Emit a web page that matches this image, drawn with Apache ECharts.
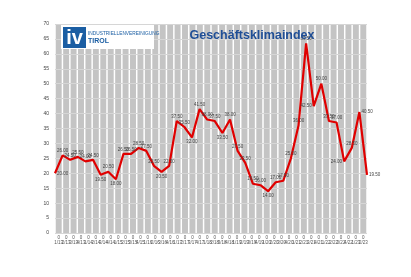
<!DOCTYPE html>
<html><head><meta charset="utf-8">
<script src="https://cdn.jsdelivr.net/npm/echarts@6/dist/echarts.min.js"></script>
<style>html,body{margin:0;padding:0;background:#fff}#c{width:411px;height:277px}</style>
</head><body><div id="c"></div>
<script>
const quarters = ['1/13','2/13','3/13','4/13','1/14','2/14','3/14','4/14','1/15','2/15','3/15','4/15',
  '1/16','2/16','3/16','4/16','1/17','2/17','3/17','4/17','1/18','2/18','3/18','4/18',
  '1/19','2/19','3/19','4/19','1/20','2/20','3/20','4/20','1/21','2/21','3/21','4/21',
  '1/22','2/22','3/22','4/22','1/23','2/23'];
const indexValues = [20.0,26.0,24.5,25.5,24.0,24.5,19.5,20.5,18.0,26.5,26.5,28.5,
  27.5,22.5,20.5,22.5,37.5,35.5,32.0,41.5,38.0,37.5,33.5,38.0,
  27.5,23.5,16.5,16.0,14.0,17.0,17.5,25.0,36.0,63.5,42.5,50.0,
  37.5,37.0,24.0,28.5,40.5,19.5];
const bottomRow = quarters.map(() => '0');
const yMin = 0, yMax = 70, yStep = 5;

// label placement (style only)
const labelSide = {0: 'right', 38: 'left', 40: 'right', 41: 'right', 34: 'left', 28: 'bottom', 8: 'bottom', 6: 'bottom', 14: 'bottom', 18: 'bottom', 22: 'bottom'};

const chart = echarts.init(document.getElementById('c'), null, {renderer: 'canvas'});
chart.setOption({
  animation: false,
  backgroundColor: '#fff',
  textStyle: {fontFamily: 'Liberation Sans'},
  grid: {left: 55, right: 44, top: 24, bottom: 44},
  xAxis: [
    {type: 'category', data: quarters, boundaryGap: true,
     axisLine: {show: false}, axisTick: {show: false},
     axisLabel: {interval: 0, fontSize: 4.5, color: '#555', lineHeight: 5.5, margin: 2,
       formatter: (v, i) => bottomRow[i] + '\n' + v}},
    {type: 'category', data: quarters, boundaryGap: false, show: false, position: 'bottom'}
  ],
  yAxis: {type: 'value', min: yMin, max: yMax, interval: yStep, z: 3,
    axisLine: {show: false}, axisTick: {show: false},
    axisLabel: {fontSize: 5, color: '#444', margin: 6},
    splitLine: {lineStyle: {color: '#d6d6d6', width: 1}}},
  series: [
    {type: 'bar', data: indexValues, xAxisIndex: 0, barCategoryGap: '20%', silent: true, z: 1,
     itemStyle: {color: 'rgba(0,0,0,0)'}, showBackground: true,
     backgroundStyle: {color: '#c4c4c4'}},
    {type: 'line', xAxisIndex: 1, z: 10, symbol: 'circle', symbolSize: 0.1,
     showSymbol: true,
     data: indexValues.map((v, i) => labelSide[i] ? {value: v, label: {position: labelSide[i]}} : v),
     lineStyle: {color: '#e00000', width: 2.2},
     itemStyle: {color: '#e00000'},
     label: {show: true, fontSize: 4.5, color: '#444', distance: 2, formatter: p => p.value.toFixed(2)}}
  ],
  graphic: [
    {type: 'rect', shape: {x: 61, y: 25, width: 93, height: 24}, style: {fill: '#fff'}, z: 20},
    {type: 'rect', shape: {x: 63, y: 27, width: 23, height: 21}, style: {fill: '#1b5ea3'}, z: 21},
    {type: 'text', x: 74.5, y: 38, z: 22, style: {text: 'iv', fill: '#fff', font: 'bold 20px "Liberation Sans"', align: 'center', verticalAlign: 'middle'}},
    {type: 'text', x: 88, y: 34, z: 22, style: {text: 'INDUSTRIELLENVEREINIGUNG', fill: '#1b5ea3', font: '4.8px "Liberation Sans"', verticalAlign: 'middle'}},
    {type: 'text', x: 88, y: 41.5, z: 22, style: {text: 'TIROL', fill: '#1b5ea3', font: 'bold 7px "Liberation Sans"', verticalAlign: 'middle'}},
    {type: 'text', x: 252, y: 36, z: 22, style: {text: 'Geschäftsklimaindex', fill: '#1f4e96', font: 'bold 12.5px "Liberation Sans"', align: 'center', verticalAlign: 'middle'}}
  ]
});
</script></body></html>
